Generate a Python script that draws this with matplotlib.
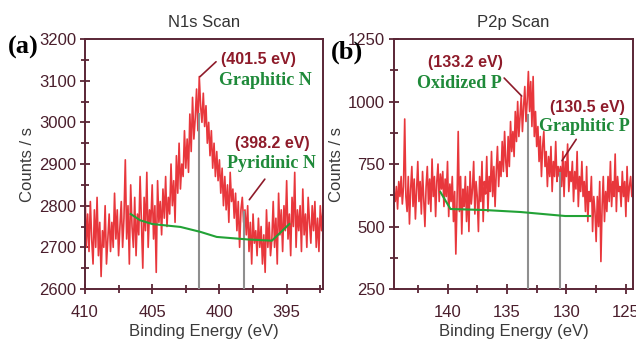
import numpy as np
import matplotlib
matplotlib.use("Agg")
import matplotlib.pyplot as plt
from matplotlib.ticker import MultipleLocator

# N1s spectrum, 410.0 -> 392.3 eV in 0.1 eV steps
n1s_start, n1s_step = 410.0, -0.1
n1s_counts = [
    2840, 2700, 2780, 2690, 2810, 2720, 2660, 2790, 2700, 2820,
    2680, 2760, 2630, 2740, 2700, 2800, 2660, 2720, 2780, 2690,
    2760, 2700, 2830, 2720, 2790, 2680, 2750, 2810, 2700, 2770,
    2910, 2720, 2800, 2660, 2850, 2750, 2700, 2820, 2680, 2780,
    2730, 2870, 2760, 2650, 2820, 2740, 2880, 2700, 2790, 2760,
    2850, 2720, 2800, 2640, 2860, 2760, 2810, 2730, 2840, 2770,
    2870, 2750, 2820, 2780, 2900, 2800, 2860, 2760, 2920, 2830,
    2950, 2840, 2900, 2870, 2980, 2890, 2960, 2880, 3020, 2930,
    3060, 2960, 3010, 3080, 2980, 3110, 3040, 3000, 3070, 2990,
    3040, 2950, 3000, 2920, 2980, 2890, 2950, 2870, 2930, 2860,
    2910, 2830, 2890, 2800, 2870, 2790, 2850, 2760, 2880, 2810,
    2840, 2770, 2830, 2740, 2810, 2700, 2790, 2820, 2760, 2790,
    2730, 2800, 2690, 2760, 2660, 2780, 2710, 2740, 2680, 2770,
    2700, 2750, 2660, 2730, 2640, 2790, 2700, 2760, 2680, 2720,
    2810, 2700, 2770, 2660, 2830, 2730, 2790, 2690, 2800, 2740,
    2860, 2720, 2780, 2680, 2820, 2750, 2880, 2700, 2790, 2740,
    2800, 2690, 2840, 2730, 2780, 2700, 2820, 2760, 2710, 2800,
    2740, 2810, 2700, 2770, 2690, 2800, 2740, 2790,
]
n1s_bg_energy = [406.6, 405.9, 405.0, 402.9, 401.4, 400.2, 397.9, 396.1, 394.8]
n1s_bg_counts = [2780, 2765, 2756, 2749, 2737, 2725, 2719, 2716, 2756]
n1s_peaks = [401.5, 398.2]
n1s_peak_tops = [3020, 2785]

# P2p spectrum, 144.5 -> 124.4 eV in 0.1 eV steps
p2p_start, p2p_step = 144.5, -0.1
p2p_counts = [
    640, 600, 660, 570, 680, 620, 700, 590, 660, 930,
    620, 560, 700, 510, 650, 740, 580, 690, 530, 640,
    760, 600, 680, 550, 720, 610, 500, 660, 740, 590,
    690, 560, 770, 620, 700, 540, 680, 750, 600, 710,
    650, 720, 580, 690, 620, 760, 540, 670, 600, 700,
    520, 640, 390, 600, 880, 560, 700, 470, 650, 580,
    700, 520, 660, 480, 720, 590, 650, 760, 550, 680,
    620, 480, 700, 600, 760, 520, 680, 630, 780, 560,
    700, 640, 800, 620, 740, 580, 720, 820, 660, 760,
    700, 840, 720, 880, 760, 700, 860, 740, 920, 800,
    880, 780, 960, 840, 1000, 860, 940, 1020, 880, 980,
    1060, 920, 1000, 1120, 960, 1080, 900, 1100, 860, 960,
    820, 900, 760, 860, 700, 820, 880, 740, 800, 660,
    780, 700, 820, 640, 760, 700, 840, 680, 740, 700,
    740, 660, 800, 620, 760, 700, 830, 640, 720, 680,
    760, 600, 720, 650, 800, 580, 700, 640, 760, 620,
    680, 560, 740, 520, 640, 600, 700, 480, 620, 560,
    440, 620, 500, 680, 360, 580, 700, 520, 640, 560,
    700, 600, 760, 580, 680, 620, 790, 560, 700, 640,
    660, 580, 720, 620, 680, 540, 740, 600, 660, 700,
    620, 660,
]
p2p_bg_energy = [140.6, 139.75, 136.9, 133.85, 130.1, 128.0]
p2p_bg_counts = [638, 570, 566, 558, 542, 542]
p2p_peaks = [133.2, 130.5]
p2p_peak_tops = [946, 714]

RED = "#e8373c"
GREEN = "#22a236"
FRAME = "#5a2636"
LABEL_RED = "#8e1b2a"
LABEL_GREEN = "#1f8a3a"

plt.rcParams["font.family"] = ["Liberation Sans", "DejaVu Sans"]


def style_axes(ax, title, xlim, ylim, xmajor, ymajor):
    ax.set_xlim(*xlim)
    ax.set_ylim(*ylim)
    ax.xaxis.set_major_locator(MultipleLocator(xmajor))
    ax.xaxis.set_minor_locator(MultipleLocator(xmajor / 2))
    ax.yaxis.set_major_locator(MultipleLocator(ymajor))
    ax.yaxis.set_minor_locator(MultipleLocator(ymajor / 2))
    ax.tick_params(which="both", direction="inout", color=FRAME, width=1.3,
                   labelcolor="#4a1e2c", labelsize=12)
    ax.tick_params(which="major", length=7)
    ax.tick_params(which="minor", length=6)
    ax.tick_params(axis="x", which="major", pad=8)
    ax.tick_params(axis="y", which="major", pad=3)
    for s in ax.spines.values():
        s.set_color(FRAME)
        s.set_linewidth(1.4)
    ax.set_title(title, fontsize=12, color="#333333", pad=9)
    ax.set_xlabel("Binding Energy (eV)", fontsize=12, color="#3a3a3a", labelpad=3)
    ax.set_ylabel("Counts / s", fontsize=12, color="#3a3a3a", labelpad=3)


def note(ax, value_txt, name_txt, vxy, nxy, line_from, line_to):
    ax.annotate("", xy=line_from, xytext=line_to,
                arrowprops=dict(arrowstyle="-", color=LABEL_RED, lw=1.2))
    ax.text(*vxy, value_txt, color=LABEL_RED, fontsize=11.5, fontweight="bold",
            ha="center", va="center")
    ax.text(*nxy, name_txt, color=LABEL_GREEN, fontsize=13, fontweight="bold",
            family=["Liberation Serif", "DejaVu Serif"], ha="center", va="center")


fig = plt.figure(figsize=(6.36, 3.46), dpi=100)
ax_a = fig.add_axes([0.1336, 0.1647, 0.3742, 0.7225])
ax_b = fig.add_axes([0.6195, 0.1647, 0.3758, 0.7225])

# (a) N1s
e_a = n1s_start + n1s_step * np.arange(len(n1s_counts))
ax_a.plot(e_a, n1s_counts, color=RED, lw=1.2, zorder=2)
for e, top in zip(n1s_peaks, n1s_peak_tops):
    ax_a.plot([e, e], [2600, top], color="#8f8f8f", lw=1.5, zorder=3)
ax_a.plot(n1s_bg_energy, n1s_bg_counts, color=GREEN, lw=1.5, zorder=4)
style_axes(ax_a, "N1s Scan", (410, 392.3), (2600, 3200), 5, 100)
note(ax_a, "(401.5 eV)", "Graphitic N", (397.1, 3150), (396.6, 3101),
     (401.6, 3105), (400.1, 3150))
note(ax_a, "(398.2 eV)", "Pyridinic N", (396.1, 2950), (396.1, 2902),
     (397.9, 2809), (396.5, 2869))

# (b) P2p
e_b = p2p_start + p2p_step * np.arange(len(p2p_counts))
ax_b.plot(e_b, p2p_counts, color=RED, lw=1.2, zorder=2)
for e, top in zip(p2p_peaks, p2p_peak_tops):
    ax_b.plot([e, e], [250, top], color="#8f8f8f", lw=1.5, zorder=3)
ax_b.plot(p2p_bg_energy, p2p_bg_counts, color=GREEN, lw=1.5, zorder=4)
style_axes(ax_b, "P2p Scan", (144.5, 124.4), (250, 1250), 5, 250)
note(ax_b, "(133.2 eV)", "Oxidized P", (138.5, 1158), (139.0, 1074),
     (133.6, 1014), (135.4, 1102))
note(ax_b, "(130.5 eV)", "Graphitic P", (128.2, 978), (128.5, 902),
     (130.5, 754), (129.05, 858))

fig.text(0.036, 0.862, "(a)", fontsize=19, fontweight="bold",
         family=["Liberation Serif", "DejaVu Serif"], ha="center", va="center")
fig.text(0.546, 0.848, "(b)", fontsize=19, fontweight="bold",
         family=["Liberation Serif", "DejaVu Serif"], ha="center", va="center")

fig.savefig("out.png", dpi=100)
